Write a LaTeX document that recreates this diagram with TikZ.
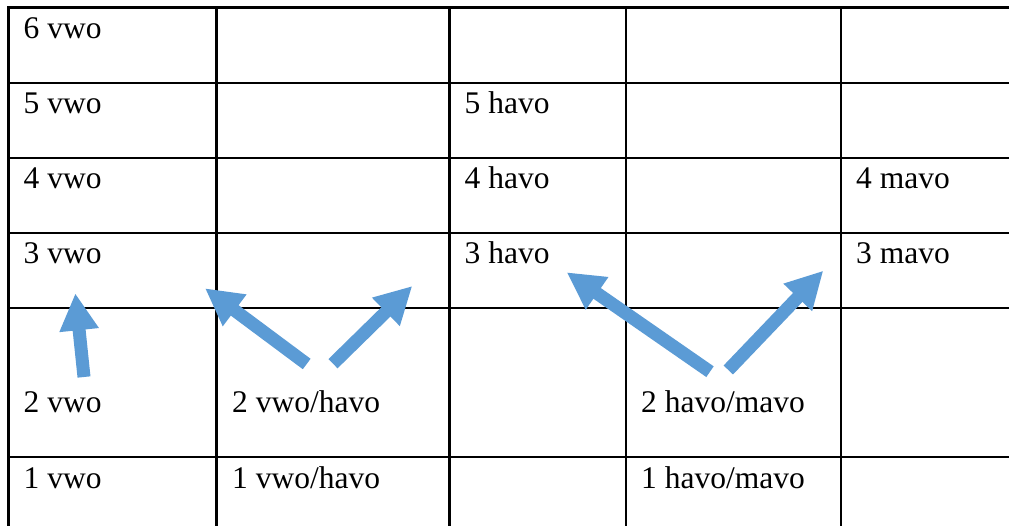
\documentclass[tikz,border=0pt]{standalone}
\usepackage{fontspec}
\setmainfont{Liberation Serif}
\usetikzlibrary{arrows.meta}
\definecolor{pijlblauw}{RGB}{91,155,213}
\tikzset{
    cell/.style={anchor=base west, inner sep=0pt, font=\fontsize{31.5}{38}\selectfont},
    pijl/.style={draw=pijlblauw, line width=13pt, -{Triangle[width=37pt,length=37pt]}, color=pijlblauw}
}
\begin{document}
\begin{tikzpicture}[x=1pt,y=-1pt]
    \useasboundingbox (0,0) rectangle (1009,526);

    % grid
    \foreach \y in {7.5,83,158,233,308,457}
        \draw [line width=2.6pt] (7.4,\y) -- (1012,\y);
    \foreach \x in {8.7,216.7,449.3,626,841}
        \draw [line width=2.6pt] (\x,6.2) -- (\x,530);

    % vwo
    \node [cell] (v6) at (23.5,38.5) {6 vwo};
    \node [cell] (v5) at (23.5,114) {5 vwo};
    \node [cell] (v4) at (23.5,189) {4 vwo};
    \node [cell] (v3) at (23.5,264) {3 vwo};
    \node [cell] (v2) at (23.5,412) {2 vwo};
    \node [cell] (v1) at (23.5,488) {1 vwo};
    \node [cell] (vh2) at (232,412) {2 vwo/havo};
    \node [cell] (vh1) at (232,488) {1 vwo/havo};

    % havo
    \node [cell] (h5) at (464.5,114) {5 havo};
    \node [cell] (h4) at (464.5,189) {4 havo};
    \node [cell] (h3) at (464.5,264) {3 havo};
    \node [cell] (hm2) at (641,412) {2 havo/mavo};
    \node [cell] (hm1) at (641,488) {1 havo/mavo};

    % mavo
    \node [cell] (m4) at (856,189) {4 mavo};
    \node [cell] (m3) at (856,264) {3 mavo};

    % arrows
    \coordinate (a1s) at (84,377);
    \coordinate (a1e) at (75.3,293.3);
    \coordinate (a2s) at (306.7,364);
    \coordinate (a2e) at (205,288.3);
    \coordinate (a3s) at (333,363.7);
    \coordinate (a3e) at (412.3,286);
    \coordinate (a4s) at (710,371.7);
    \coordinate (a4e) at (566.7,272.3);
    \coordinate (a5s) at (728.3,370);
    \coordinate (a5e) at (823.3,270.7);
    \draw [pijl] (a1s) -- (a1e);
    \draw [pijl] (a2s) -- (a2e);
    \draw [pijl] (a3s) -- (a3e);
    \draw [pijl] (a4s) -- (a4e);
    \draw [pijl] (a5s) -- (a5e);
\end{tikzpicture}
\end{document}
